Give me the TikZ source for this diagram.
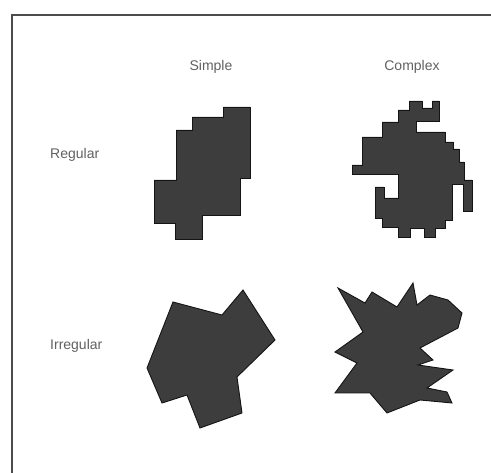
\documentclass[tikz,border=0pt]{standalone}
\usepackage{fontspec}
\setmainfont{Liberation Sans}
\begin{document}
\begin{tikzpicture}[x=1pt,y=-1pt,
  lbl/.style={font=\fontsize{14}{16}\selectfont, text=black!62, inner sep=0pt},
  blob/.style={fill=black!76, draw=black!92, line width=0.9pt, line join=miter}]
\useasboundingbox (0,0) rectangle (491,473);
% frame
\draw[black!70, line width=1.2pt] (12,473) -- (12,15) -- (491,15);
% labels
\node[lbl] (simple) at (211,67) {Simple};
\node[lbl] (complex) at (412,67) {Complex};
\node[lbl, anchor=west] (regular) at (50,155) {Regular};
\node[lbl, anchor=west] (irregular) at (50,346) {Irregular};
% simple regular
\draw[blob] (223,107) -- (250,107) -- (250,178) -- (240,178) -- (240,215) -- (202,215)
  -- (202,239) -- (175,239) -- (175,223) -- (154,223) -- (154,180) -- (176,180)
  -- (176,130) -- (192,130) -- (192,117) -- (223,117) -- cycle;
% complex regular
\draw[blob] (409,101) -- (422,101) -- (422,108) -- (432,108) -- (432,101) -- (439,101)
  -- (439,121) -- (416,121) -- (416,132) -- (445,132) -- (445,142) -- (453,142)
  -- (453,149) -- (459,149) -- (459,162) -- (464,162) -- (464,180) -- (472,180)
  -- (472,211) -- (463,211) -- (463,184) -- (452,184) -- (452,220) -- (445,220)
  -- (445,228) -- (435,228) -- (435,237) -- (424,237) -- (424,228) -- (410,228)
  -- (410,237) -- (398,237) -- (398,227) -- (382,227) -- (382,218) -- (375,218)
  -- (375,187) -- (384,187) -- (384,198) -- (398,198) -- (398,174) -- (352,174)
  -- (352,165) -- (362,165) -- (362,137) -- (382,137) -- (382,122) -- (398,122)
  -- (398,110) -- (409,110) -- cycle;
% simple irregular
\draw[blob] (173,302) -- (222,315) -- (243,290) -- (275,340) -- (237,377)
  -- (242,413) -- (200,428) -- (187,395) -- (162,403) -- (147,368) -- cycle;
% complex irregular
\draw[blob] (338,288) -- (365,303) -- (372,292) -- (397,307) -- (413,283) -- (417,305)
  -- (430,295) -- (448,300) -- (462,313) -- (458,328) -- (420,348) -- (433,360)
  -- (418,365) -- (453,370) -- (427,388) -- (447,392) -- (452,403) -- (420,400)
  -- (387,413) -- (370,393) -- (335,393) -- (357,363) -- (335,352) -- (363,332) -- cycle;
\end{tikzpicture}
\end{document}
